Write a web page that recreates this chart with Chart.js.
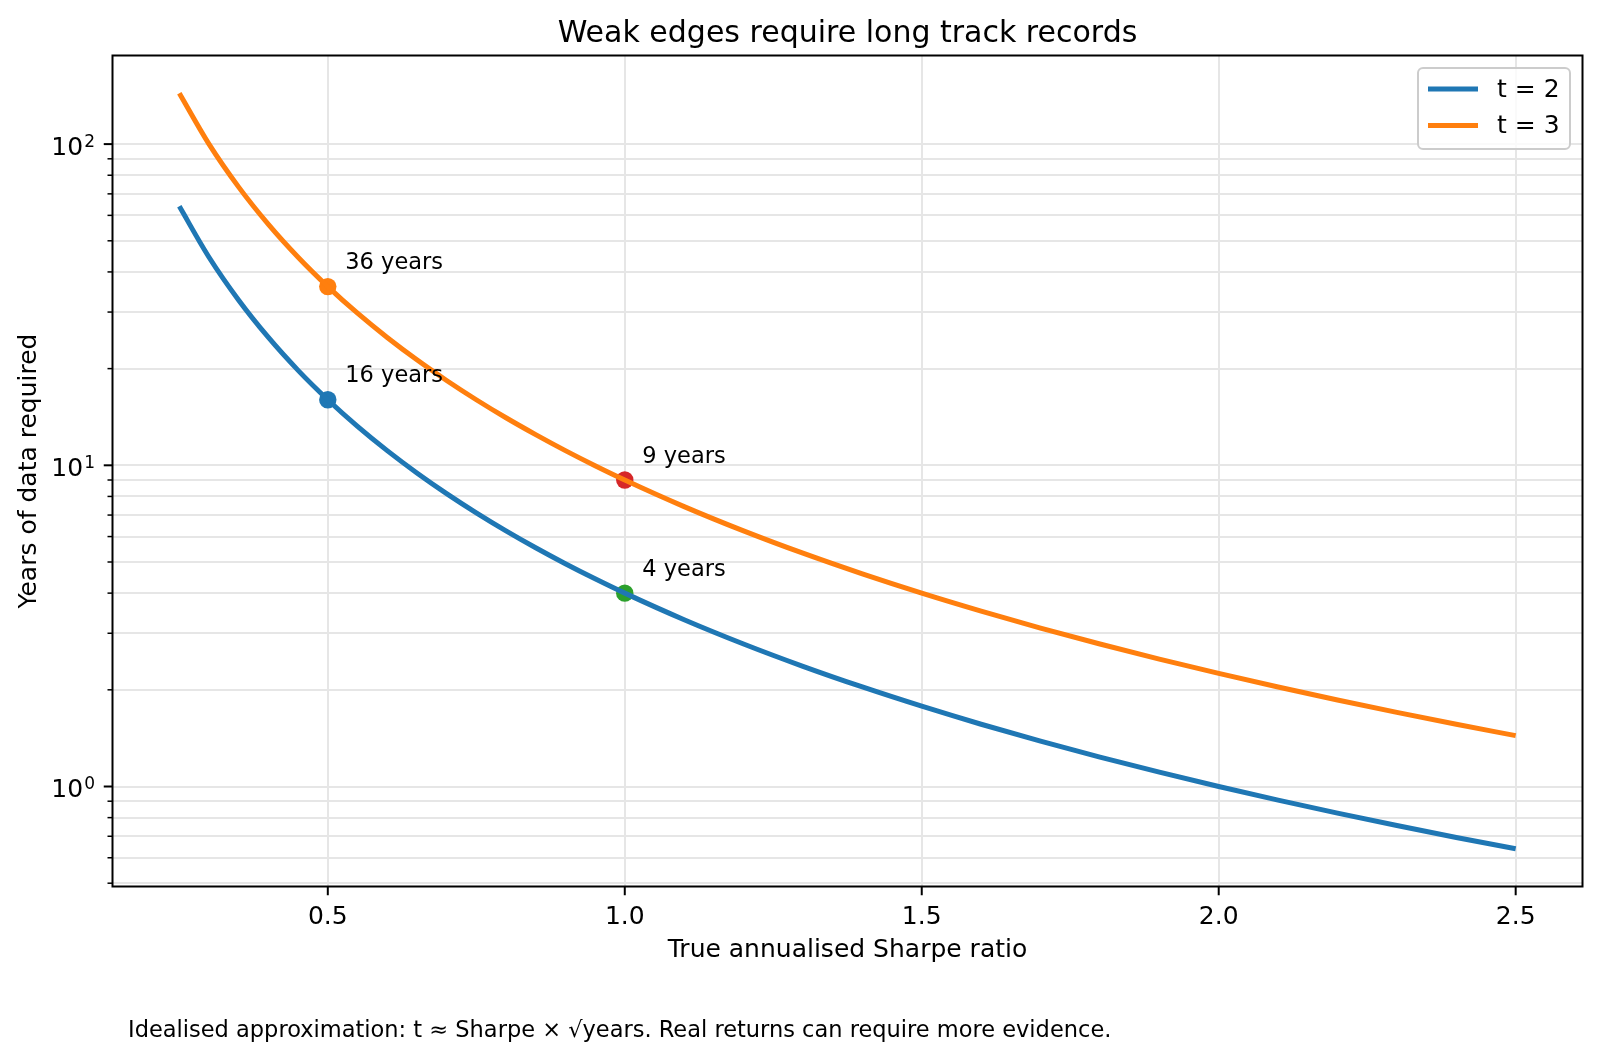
<!DOCTYPE html>
<html>
<head>
<meta charset="utf-8">
<script src="https://cdn.jsdelivr.net/npm/chart.js@4.4.1/dist/chart.umd.min.js"></script>
<style>
  html, body { margin: 0; padding: 0; background: #fff; }
  #lienzo { display: block; }
</style>
</head>
<body>
<canvas id="lienzo" width="1600" height="1060"></canvas>
<script>
// Años de historia necesarios vs. Sharpe anualizado.

var FUENTE = '"DejaVu Sans", "Noto Sans", sans-serif';

var sharpe = [0.25, 0.30, 0.35, 0.40, 0.45, 0.50, 0.55, 0.60, 0.65, 0.70, 0.75, 0.80, 0.85, 0.90, 0.95, 1.00,
              1.10, 1.20, 1.30, 1.40, 1.50, 1.60, 1.70, 1.80, 1.90, 2.00, 2.10, 2.20, 2.30, 2.40, 2.50];
var anosT2 = [64.0, 44.44, 32.65, 25.0, 19.75, 16.0, 13.22, 11.11, 9.467, 8.163, 7.111, 6.25, 5.536, 4.938, 4.432, 4.0,
              3.306, 2.778, 2.367, 2.041, 1.778, 1.5625, 1.384, 1.235, 1.108, 1.0, 0.907, 0.826, 0.756, 0.694, 0.64];
var anosT3 = [144.0, 100.0, 73.47, 56.25, 44.44, 36.0, 29.75, 25.0, 21.30, 18.37, 16.0, 14.06, 12.46, 11.11, 9.972, 9.0,
              7.438, 6.25, 5.325, 4.592, 4.0, 3.516, 3.114, 2.778, 2.493, 2.25, 2.041, 1.860, 1.701, 1.5625, 1.44];

var marcasSharpe = [0.5, 0.5, 1.0, 1.0];
var marcasAnos = [16, 36, 4, 9];
var marcasTexto = ['16 years', '36 years', '4 years', '9 years'];
var marcasColor = ['#1f77b4', '#ff7f0e', '#2ca02c', '#d62728'];

var series = ['t = 2', 't = 3'];
var seriesColor = ['#1f77b4', '#ff7f0e'];

var ticksX = [0.5, 1.0, 1.5, 2.0, 2.5];
var ticksY = [0.5, 0.6, 0.7, 0.8, 0.9, 1, 2, 3, 4, 5, 6, 7, 8, 9, 10, 20, 30, 40, 50, 60, 70, 80, 90, 100];
var exponentesY = { 1: '0', 10: '1', 100: '2' };

var limX = [0.1375, 2.6125];
var limY = [0.4883, 188.74];

var titulo = 'Weak edges require long track records';
var tituloX = 'True annualised Sharpe ratio';
var tituloY = 'Years of data required';
var nota = 'Idealised approximation: t \u2248 Sharpe \u00d7 \u221ayears. Real returns can require more evidence.';

function puntos(xs, ys) {
  return xs.map(function (x, i) { return { x: x, y: ys[i] }; });
}

function esMayor(v) {
  var l = Math.log10(v);
  return Math.abs(l - Math.round(l)) < 1e-9;
}

var decorado = {
  id: 'decorado',
  afterDraw: function (chart) {
    var c = chart.ctx;
    var a = chart.chartArea;
    var sx = chart.scales.x, sy = chart.scales.y;
    c.save();

    // marcas de los ejes (hacia fuera)
    c.strokeStyle = '#000';
    sx.ticks.forEach(function (t) {
      var px = sx.getPixelForValue(t.value);
      c.lineWidth = 2;
      c.beginPath(); c.moveTo(px, a.bottom); c.lineTo(px, a.bottom + 8.75); c.stroke();
    });
    sy.ticks.forEach(function (t) {
      var py = sy.getPixelForValue(t.value);
      var mayor = esMayor(t.value);
      c.lineWidth = mayor ? 2 : 1.5;
      c.beginPath(); c.moveTo(a.left, py); c.lineTo(a.left - (mayor ? 8.75 : 5), py); c.stroke();
    });

    // etiquetas 10^n del eje y
    c.fillStyle = '#000';
    c.textBaseline = 'alphabetic';
    sy.ticks.forEach(function (t) {
      var exp = exponentesY[t.value];
      if (exp === undefined) return;
      var py = sy.getPixelForValue(t.value);
      c.font = '17px ' + FUENTE;
      var wSup = c.measureText(exp).width;
      c.textAlign = 'left';
      c.fillText(exp, 95 - wSup, py + 2.5);
      c.font = '25px ' + FUENTE;
      c.textAlign = 'right';
      c.fillText('10', 95 - wSup - 1, py + 10.5);
    });

    // marco
    c.strokeStyle = '#000';
    c.lineWidth = 2;
    c.strokeRect(a.left, a.top, a.right - a.left, a.bottom - a.top);

    // anotaciones de los puntos
    c.font = '22.5px ' + FUENTE;
    c.textAlign = 'left';
    marcasTexto.forEach(function (txt, i) {
      var px = sx.getPixelForValue(marcasSharpe[i]);
      var py = sy.getPixelForValue(marcasAnos[i]);
      c.fillText(txt, px + 17.5, py - 17.5);
    });

    // título y rótulos
    var cx = (a.left + a.right) / 2;
    c.textAlign = 'center';
    c.font = '30px ' + FUENTE;
    c.fillText(titulo, cx, 42);
    c.font = '25px ' + FUENTE;
    c.fillText(tituloX, cx, 957.3);
    c.save();
    c.translate(36, (a.top + a.bottom) / 2);
    c.rotate(-Math.PI / 2);
    c.fillText(tituloY, 0, 0);
    c.restore();

    // nota al pie
    c.textAlign = 'left';
    c.font = '22.5px ' + FUENTE;
    c.fillText(nota, 128, 1036.7);

    // leyenda
    var lx = 1418, ly = 68, lw = a.right - 12.5 - lx, lh = 81;
    c.beginPath();
    c.roundRect(lx, ly, lw, lh, 5);
    c.fillStyle = 'rgba(255,255,255,0.8)';
    c.fill();
    c.strokeStyle = '#cccccc';
    c.lineWidth = 2;
    c.stroke();
    c.font = '25px ' + FUENTE;
    c.textBaseline = 'middle';
    series.forEach(function (nombre, i) {
      var y = 89 + i * 36.5;
      c.strokeStyle = seriesColor[i];
      c.lineWidth = 5;
      c.lineCap = 'butt';
      c.beginPath(); c.moveTo(1428, y); c.lineTo(1478, y); c.stroke();
      c.fillStyle = '#000';
      c.fillText(nombre, 1497, y + 1);
    });

    c.restore();
  }
};

var ctx = document.getElementById('lienzo').getContext('2d');
new Chart(ctx, {
  type: 'line',
  data: {
    datasets: [
      {
        label: series[0], data: puntos(sharpe, anosT2),
        borderColor: seriesColor[0], borderWidth: 5, pointRadius: 0,
        cubicInterpolationMode: 'monotone', order: 0,
      },
      {
        label: series[1], data: puntos(sharpe, anosT3),
        borderColor: seriesColor[1], borderWidth: 5, pointRadius: 0,
        cubicInterpolationMode: 'monotone', order: 0,
      },
      {
        label: 'marcas', data: puntos(marcasSharpe, marcasAnos), showLine: false,
        pointRadius: 8.7, pointBorderWidth: 0,
        pointBackgroundColor: marcasColor, pointBorderColor: marcasColor, order: 1,
      },
    ],
  },
  options: {
    responsive: false,
    animation: false,
    layout: { padding: { top: 55.5, right: 17.5, bottom: 0, left: 0 } },
    plugins: { legend: { display: false }, tooltip: { enabled: false }, title: { display: false } },
    scales: {
      x: {
        type: 'linear', min: limX[0], max: limX[1],
        afterFit: function (s) { s.height = 1060 - 886.5; },
        afterBuildTicks: function (s) { s.ticks = ticksX.map(function (v) { return { value: v }; }); },
        ticks: {
          color: '#000', padding: 16, maxRotation: 0, autoSkip: false,
          font: { family: FUENTE, size: 25 },
          callback: function (v) { return Number(v).toFixed(1); },
        },
        grid: { color: '#e6e6e6', lineWidth: 2, drawTicks: false },
        border: { display: false },
      },
      y: {
        type: 'logarithmic', min: limY[0], max: limY[1],
        afterFit: function (s) { s.width = 112.5; },
        afterBuildTicks: function (s) {
          s.ticks = ticksY.map(function (v) { return { value: v }; });
        },
        ticks: { display: true, autoSkip: false, callback: function () { return ''; } },
        grid: { drawTicks: false, color: '#e6e6e6', lineWidth: 2 },
        border: { display: false },
      },
    },
  },
  plugins: [decorado],
});
</script>
</body>
</html>
